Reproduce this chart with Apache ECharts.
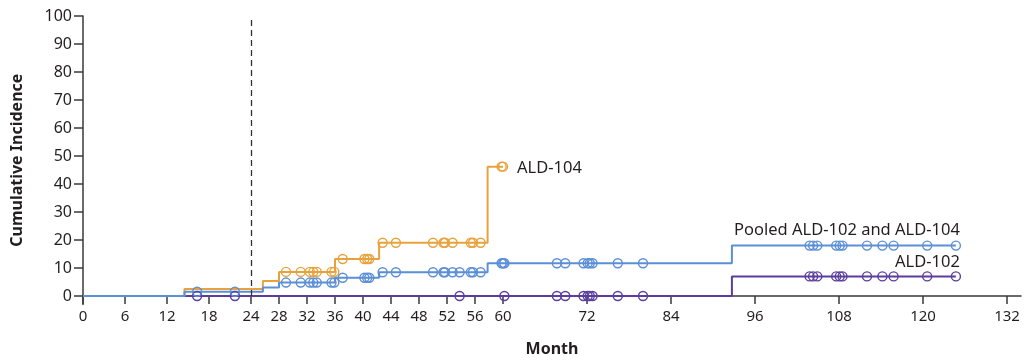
<!DOCTYPE html>
<html>
<head>
<meta charset="utf-8">
<script src="https://cdn.jsdelivr.net/npm/echarts@6/dist/echarts.min.js"></script>
<style>
html,body{margin:0;padding:0;background:#fff;}
#chart{width:1033px;height:360px;}
</style>
</head>
<body>
<div id="chart"></div>
<script>
// ---- Data (months, cumulative incidence %) ----
const xTickValues = [0, 6, 12, 18, 24, 28, 32, 36, 40, 44, 48, 52, 56, 60, 72, 84, 96, 108, 120, 132];
const yTickValues = [0, 10, 20, 30, 40, 50, 60, 70, 80, 90, 100];

const ald104Steps = [[0,0],[14.5,2.5],[25.7,5.4],[28,8.6],[36,13.2],[42.3,19.0],[57.8,46.2],[60,46.2]];
const pooledSteps = [[0,0],[14.5,1.5],[25.7,3.0],[28,4.8],[36,6.5],[42.3,8.5],[57.8,11.7],[92.7,18.0],[124.7,18.0]];
const ald102Steps = [[0,0],[92.7,7.0],[124.7,7.0]];

const ald104Censor = [
  [29,8.6],[31.1,8.6],[32.4,8.6],[32.9,8.6],[33.4,8.6],[35.5,8.6],[35.9,8.6],
  [37.1,13.2],[40.2,13.2],[40.6,13.2],[40.9,13.2],
  [42.8,19.0],[44.7,19.0],[50,19.0],[51.5,19.0],[51.7,19.0],[52.8,19.0],[55.4,19.0],[55.7,19.0],[56.8,19.0],
  [59.8,46.2],[60,46.2]
];
const pooledCensor = [
  [16.3,1.5],[21.7,1.5],
  [29,4.8],[31.1,4.8],[32.4,4.8],[32.9,4.8],[33.4,4.8],[35.5,4.8],[35.9,4.8],
  [37.1,6.5],[40.2,6.5],[40.6,6.5],[40.9,6.5],
  [42.8,8.5],[44.7,8.5],[50,8.5],[51.5,8.5],[51.7,8.5],[52.8,8.5],[53.8,8.5],[55.4,8.5],[55.7,8.5],[56.8,8.5],
  [59.8,11.7],[60,11.7],[60.2,11.7],[67.7,11.7],[68.9,11.7],[71.5,11.7],[72.1,11.7],[72.4,11.7],[72.8,11.7],[76.4,11.7],[80,11.7],
  [103.8,18.0],[104.3,18.0],[104.9,18.0],[107.6,18.0],[108.1,18.0],[108.5,18.0],[112,18.0],[114.2,18.0],[115.8,18.0],[120.6,18.0],[124.7,18.0]
];
const ald102Censor = [
  [16.3,0],[21.7,0],[53.8,0],[60.2,0],[67.7,0],[68.9,0],[71.5,0],[72.1,0],[72.4,0],[72.8,0],[76.4,0],[80,0],
  [103.8,7.0],[104.3,7.0],[104.9,7.0],[107.6,7.0],[108.1,7.0],[108.5,7.0],[112,7.0],[114.2,7.0],[115.8,7.0],[120.6,7.0],[124.7,7.0]
];
const landmarkMonth = 24;

const C_ORANGE = '#E9A23B';
const C_BLUE = '#5B8FD6';
const C_PURPLE = '#5A3D9E';
const FONT = 'Noto Sans';
const TXT = '#231f20';
const AX = '#3a3a3a';

const chart = echarts.init(document.getElementById('chart'), null, {renderer: 'canvas'});

function stepSeries(name, data, color, z) {
  return {
    name, type: 'line', step: 'end', data, showSymbol: false, symbol: 'none',
    lineStyle: {color, width: 2}, itemStyle: {color}, z, animation: false, silent: true
  };
}
function censorSeries(name, data, color, z) {
  return {
    name, type: 'scatter', data, symbol: 'circle', symbolSize: 9,
    itemStyle: {color: 'rgba(255,255,255,0)', borderColor: color, borderWidth: 1.4, opacity: 1},
    z, animation: false, silent: true
  };
}

const option = {
  animation: false,
  backgroundColor: '#fff',
  grid: {left: 83, right: 12, top: 16, bottom: 55.6, containLabel: false, outerBoundsMode: 'none'},
  xAxis: {
    type: 'value', min: 0, max: 134,
    axisLine: {show: true, onZero: true, lineStyle: {color: AX, width: 1.5}},
    axisTick: {show: true, length: 8, customValues: xTickValues, lineStyle: {color: AX, width: 1.5}},
    axisLabel: {customValues: xTickValues, color: TXT, fontFamily: FONT, fontSize: 15, margin: 5},
    splitLine: {show: false},
    name: 'Month', nameLocation: 'middle', nameGap: 37, nameMoveOverlap: false,
    nameTextStyle: {color: TXT, fontFamily: FONT, fontSize: 16, fontWeight: 'bold'}
  },
  yAxis: {
    type: 'value', min: -3, max: 100,
    axisLine: {show: true, onZero: false, lineStyle: {color: AX, width: 1.5}},
    axisTick: {show: true, length: 9, customValues: yTickValues, lineStyle: {color: AX, width: 1.5}},
    axisLabel: {customValues: yTickValues, color: TXT, fontFamily: FONT, fontSize: 16, margin: 11},
    splitLine: {show: false},
    name: 'Cumulative Incidence', nameLocation: 'middle', nameGap: 58, nameRotate: 90, nameMoveOverlap: false,
    nameTextStyle: {color: TXT, fontFamily: FONT, fontSize: 16, fontWeight: 'bold'}
  },
  series: [
    stepSeries('ALD-102', ald102Steps, C_PURPLE, 2),
    stepSeries('ALD-104', ald104Steps, C_ORANGE, 3),
    Object.assign(stepSeries('Pooled ALD-102 and ALD-104', pooledSteps, C_BLUE, 4), {
      markLine: {
        silent: true, symbol: 'none', animation: false,
        lineStyle: {color: '#333', type: [6, 4], width: 1.3},
        label: {show: false},
        data: [[{coord: [landmarkMonth, 0]}, {coord: [landmarkMonth, 100]}]]
      }
    }),
    censorSeries('ALD-102 censored', ald102Censor, C_PURPLE, 5),
    censorSeries('ALD-104 censored', ald104Censor, C_ORANGE, 6),
    censorSeries('Pooled censored', pooledCensor, C_BLUE, 7)
  ]
};
chart.setOption(option);

// Series labels positioned via the chart's scales
const p104 = chart.convertToPixel({gridIndex: 0}, ald104Steps[ald104Steps.length - 1]);
const pPool = chart.convertToPixel({gridIndex: 0}, pooledSteps[pooledSteps.length - 1]);
const p102 = chart.convertToPixel({gridIndex: 0}, ald102Steps[ald102Steps.length - 1]);
const txtStyle = (t, align) => ({text: t, fill: TXT, font: `16.5px "${FONT}"`, align, verticalAlign: 'middle'});
chart.setOption({
  graphic: [
    {type: 'text', x: p104[0] + 14, y: p104[1] + 2, style: txtStyle('ALD-104', 'left')},
    {type: 'text', x: pPool[0] + 4, y: pPool[1] - 15, style: txtStyle('Pooled ALD-102 and ALD-104', 'right')},
    {type: 'text', x: p102[0] + 4, y: p102[1] - 14, style: txtStyle('ALD-102', 'right')}
  ]
});
</script>
</body>
</html>
